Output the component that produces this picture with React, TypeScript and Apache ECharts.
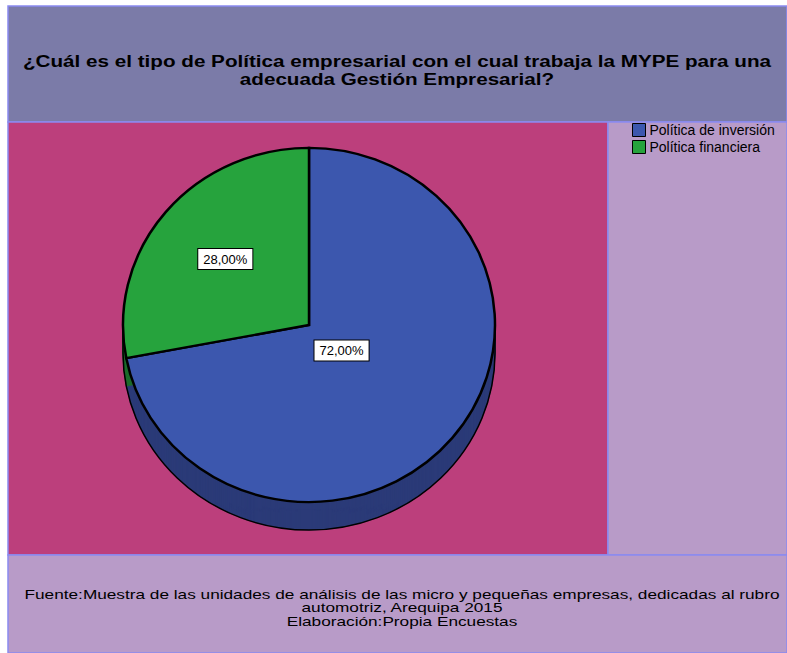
import React, { useEffect, useRef } from "react";
import * as echarts from "echarts";

const titleLines = [
  "¿Cuál es el tipo de Política empresarial con el cual trabaja la MYPE para una",
  "adecuada Gestión Empresarial?",
];
const footerLines = [
  "Fuente:Muestra de las unidades de análisis de las micro y pequeñas empresas, dedicadas al rubro",
  "automotriz, Arequipa 2015",
  "Elaboración:Propia Encuestas",
];
const categories = ["Política de inversión", "Política financiera"];
const percentages = [72, 28];

const TOP_COLORS = ["#3c57ae", "#26a33d"];
const SIDE_COLORS = ["#2b3b78", "#1c6c2b"];
const FONT = "'Liberation Sans', Arial, sans-serif";

const W = 787;
const H = 653;
const CX = 309;
const CY = 325;
const RX = 186;
const RY = 177;
const DEPTH = 28;
const SY = RY / RX;

const total = percentages.reduce((a, b) => a + b, 0);
function sliceAngles(i: number) {
  let before = 0;
  for (let k = 0; k < i; k++) before += percentages[k];
  const start = -Math.PI / 2 + (2 * Math.PI * before) / total;
  const end = start + (2 * Math.PI * percentages[i]) / total;
  return [start, end];
}
function fmt(v: number) {
  return ((v / total) * 100).toFixed(2).replace(".", ",") + "%";
}

export default function App() {
  const ref = useRef<HTMLDivElement>(null);
  useEffect(() => {
    document.body.style.margin = "0";
    const chart = echarts.init(ref.current!, null, { renderer: "svg" });

    const sideSeries = {
      type: "custom",
      name: "__side",
      coordinateSystem: "none",
      silent: true,
      z: 1,
      data: percentages.map((v, i) => [i, v]),
      renderItem: (params: any, api: any) => {
        const i = api.value(0);
        const [s, e] = sliceAngles(i);
        const children: any[] = [];
        for (let d = DEPTH; d >= 1; d--) {
          children.push({
            type: "group",
            x: CX,
            y: CY + d,
            scaleY: SY,
            children: [
              {
                type: "sector",
                shape: { cx: 0, cy: 0, r: RX, startAngle: s, endAngle: e, clockwise: true },
                style: { fill: SIDE_COLORS[i], stroke: SIDE_COLORS[i], lineWidth: 0.5 },
              },
            ],
          });
        }
        if (i === percentages.length - 1) {
          children.push({
            type: "group",
            x: CX,
            y: CY + DEPTH,
            scaleY: SY,
            children: [
              {
                type: "arc",
                shape: { cx: 0, cy: 0, r: RX, startAngle: 0, endAngle: Math.PI, clockwise: true },
                style: { fill: "none", stroke: "#000", lineWidth: 1.5 },
                strokeNoScale: true,
              },
            ],
          });
          children.push({
            type: "line",
            shape: { x1: CX - RX, y1: CY, x2: CX - RX, y2: CY + DEPTH },
            style: { stroke: "#000", lineWidth: 1.5 },
          });
          children.push({
            type: "line",
            shape: { x1: CX + RX, y1: CY, x2: CX + RX, y2: CY + DEPTH },
            style: { stroke: "#000", lineWidth: 1.5 },
          });
        }
        return { type: "group", children };
      },
    };

    const topSeries = categories.map((name, idx) => ({
      type: "custom",
      name,
      coordinateSystem: "none",
      z: 2,
      itemStyle: { color: TOP_COLORS[idx] },
      data: [[idx, percentages[idx]]],
      renderItem: (params: any, api: any) => {
        const i = api.value(0);
        const [s, e] = sliceAngles(i);
        const half = (e - s) / 2;
        const mid = (s + e) / 2;
        const f = (2 * Math.sin(half)) / (3 * half);
        const lx = CX + RX * f * Math.cos(mid);
        const ly = CY + RY * f * Math.sin(mid);
        return {
          type: "group",
          children: [
            {
              type: "group",
              x: CX,
              y: CY,
              scaleY: SY,
              children: [
                {
                  type: "sector",
                  shape: { cx: 0, cy: 0, r: RX, startAngle: s, endAngle: e, clockwise: true },
                  style: { fill: TOP_COLORS[i], stroke: "#000", lineWidth: 2.5, lineJoin: "miter" },
                  strokeNoScale: true,
                },
              ],
            },
            {
              type: "text",
              x: lx,
              y: ly,
              z2: 10,
              style: {
                text: fmt(api.value(1)),
                fill: "#000",
                font: "13px " + FONT,
                align: "center",
                verticalAlign: "middle",
                backgroundColor: "#ffffff",
                borderColor: "#000",
                borderWidth: 1,
                padding: [4, 5, 3, 5],
              },
            },
          ],
        };
      },
    }));

    const titleTexts = titleLines.map((t, k) => ({
      type: "text",
      x: 397,
      y: 61 + k * 18,
      scaleX: 1.215,
      z: 5,
      style: {
        text: t,
        fill: "#000",
        font: "bold 17px " + FONT,
        align: "center",
        verticalAlign: "middle",
      },
    }));
    const footerTexts = footerLines.map((t, k) => ({
      type: "text",
      x: 402,
      y: 594 + k * 13.5,
      scaleX: 1.325,
      z: 5,
      style: {
        text: t,
        fill: "#000",
        font: "13px " + FONT,
        align: "center",
        verticalAlign: "middle",
      },
    }));

    chart.setOption({
      animation: false,
      graphic: [
        { type: "rect", z: -10, shape: { x: 8, y: 6, width: W - 8, height: 116 }, style: { fill: "#7b7ba8", stroke: "#8a8af0", lineWidth: 1.5 } },
        { type: "rect", z: -10, shape: { x: 8, y: 122, width: 600, height: 433 }, style: { fill: "#bc3f7c", stroke: "#8a8af0", lineWidth: 1.5 } },
        { type: "rect", z: -10, shape: { x: 608, y: 122, width: W - 608, height: 433 }, style: { fill: "#b89bc8", stroke: "#8a8af0", lineWidth: 1.5 } },
        { type: "rect", z: -10, shape: { x: 8, y: 555, width: W - 8, height: H - 555 }, style: { fill: "#b89bc8", stroke: "#8a8af0", lineWidth: 1.5 } },
        ...titleTexts,
        ...footerTexts,
      ],
      legend: {
        data: categories,
        orient: "vertical",
        left: 632,
        top: 123,
        padding: 0,
        icon: "rect",
        itemWidth: 13,
        itemHeight: 13,
        itemGap: 3,
        selectedMode: false,
        itemStyle: { borderColor: "#000", borderWidth: 1 },
        textStyle: {
          fontFamily: FONT,
          fontSize: 14,
          color: "#000",
          padding: [0, 0, 0, -1],
        },
      },
      series: [sideSeries, ...topSeries],
    });
    return () => chart.dispose();
  }, []);
  return <div ref={ref} style={{ width: W, height: H }} />;
}
